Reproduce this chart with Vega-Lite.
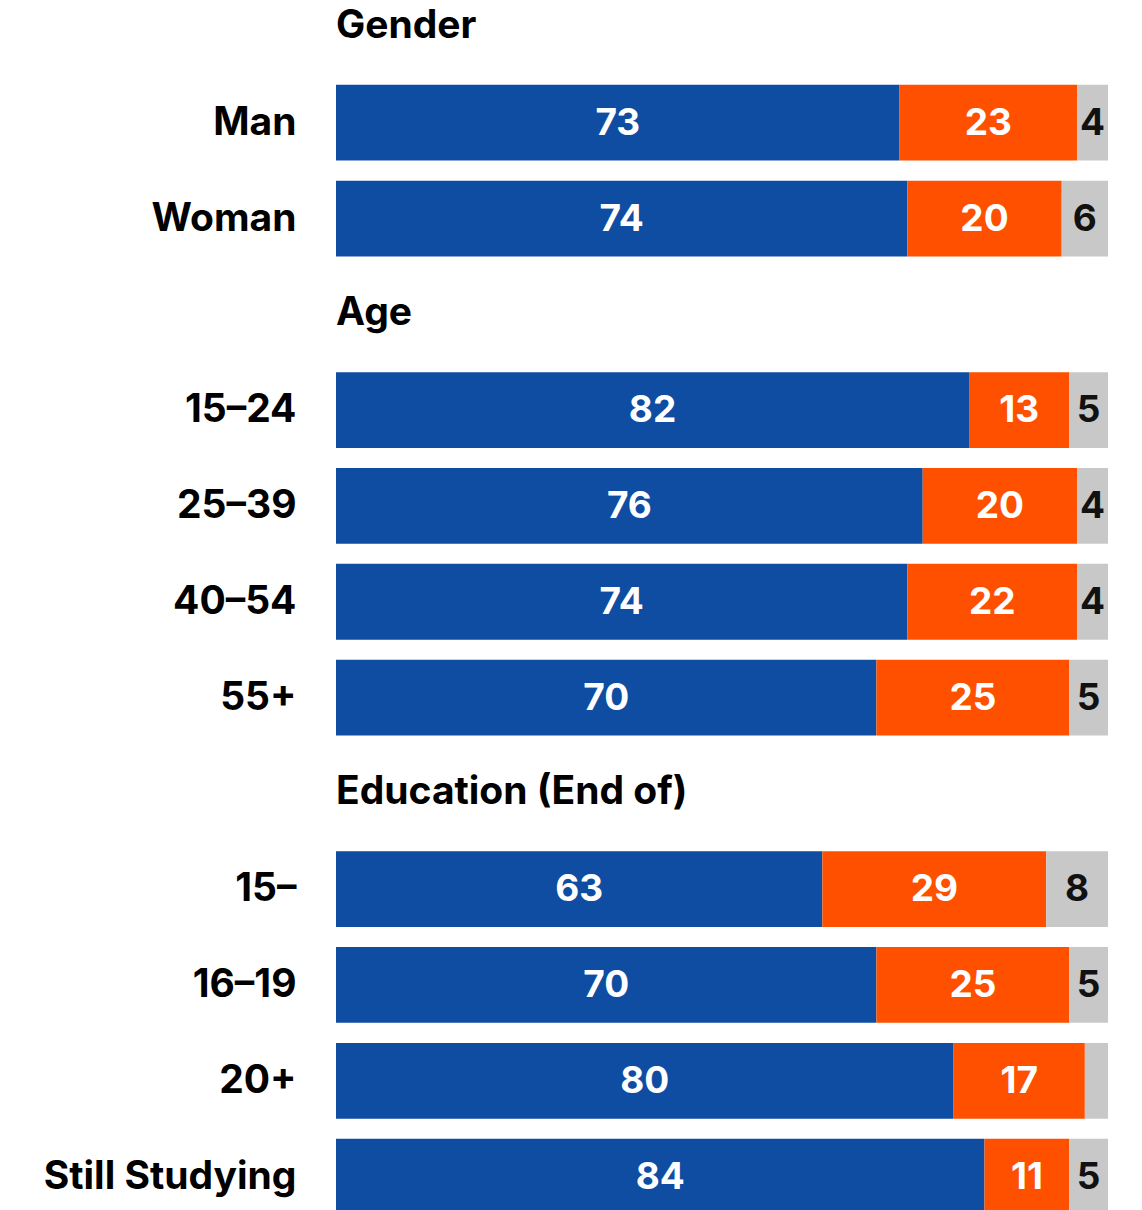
{
  "$schema": "https://vega.github.io/schema/vega-lite/v6.json",
  "width": 772,
  "height": 1210,
  "autosize": {"type": "none"},
  "padding": {"left": 336, "top": 0, "right": 34, "bottom": 0},
  "background": "white",
  "config": {"view": {"stroke": null}, "font": "Inter"},
  "datasets": {
    "bars": [
      {"row": "Man", "answer": "Agree", "value": 73},
      {"row": "Man", "answer": "Disagree", "value": 23},
      {"row": "Man", "answer": "Don't know", "value": 4},
      {"row": "Woman", "answer": "Agree", "value": 74},
      {"row": "Woman", "answer": "Disagree", "value": 20},
      {"row": "Woman", "answer": "Don't know", "value": 6},
      {"row": "15–24", "answer": "Agree", "value": 82},
      {"row": "15–24", "answer": "Disagree", "value": 13},
      {"row": "15–24", "answer": "Don't know", "value": 5},
      {"row": "25–39", "answer": "Agree", "value": 76},
      {"row": "25–39", "answer": "Disagree", "value": 20},
      {"row": "25–39", "answer": "Don't know", "value": 4},
      {"row": "40–54", "answer": "Agree", "value": 74},
      {"row": "40–54", "answer": "Disagree", "value": 22},
      {"row": "40–54", "answer": "Don't know", "value": 4},
      {"row": "55+", "answer": "Agree", "value": 70},
      {"row": "55+", "answer": "Disagree", "value": 25},
      {"row": "55+", "answer": "Don't know", "value": 5},
      {"row": "15–", "answer": "Agree", "value": 63},
      {"row": "15–", "answer": "Disagree", "value": 29},
      {"row": "15–", "answer": "Don't know", "value": 8},
      {"row": "16–19", "answer": "Agree", "value": 70},
      {"row": "16–19", "answer": "Disagree", "value": 25},
      {"row": "16–19", "answer": "Don't know", "value": 5},
      {"row": "20+", "answer": "Agree", "value": 80},
      {"row": "20+", "answer": "Disagree", "value": 17},
      {"row": "20+", "answer": "Don't know", "value": 3},
      {"row": "Still Studying", "answer": "Agree", "value": 84},
      {"row": "Still Studying", "answer": "Disagree", "value": 11},
      {"row": "Still Studying", "answer": "Don't know", "value": 5}
    ],
    "headers": [
      {"row": "Gender"},
      {"row": "Age"},
      {"row": "Education (End of)"}
    ]
  },
  "encoding": {
    "y": {
      "field": "row",
      "type": "nominal",
      "scale": {
        "domain": ["Gender", "Man", "Woman", "Age", "15–24", "25–39", "40–54", "55+", "Education (End of)", "15–", "16–19", "20+", "Still Studying"],
        "range": [-21, 1224.5],
        "paddingInner": 0.209,
        "paddingOuter": 0.1045
      },
      "axis": {
        "title": null,
        "ticks": false,
        "domain": false,
        "labelFontSize": 39,
        "labelFontWeight": "bold",
        "labelColor": "#000000",
        "labelPadding": 40,
        "labelLimit": 400,
        "labelExpr": "(datum.value == 'Gender' || datum.value == 'Age' || datum.value == 'Education (End of)') ? '' : datum.value"
      }
    }
  },
  "layer": [
    {
      "data": {"name": "bars"},
      "mark": {"type": "bar"},
      "encoding": {
        "x": {"field": "value", "type": "quantitative", "stack": "zero", "scale": {"domain": [0, 100], "nice": false}, "axis": null},
        "color": {
          "field": "answer",
          "type": "nominal",
          "scale": {"domain": ["Agree", "Disagree", "Don't know"], "range": ["#0E4DA2", "#FF5000", "#C8C8C8"]},
          "legend": null
        },
        "order": {"field": "answer"}
      }
    },
    {
      "data": {"name": "bars"},
      "mark": {"type": "text", "fontSize": 37, "fontWeight": "bold", "baseline": "middle", "align": "center", "dy": 1},
      "encoding": {
        "x": {"field": "value", "type": "quantitative", "stack": "zero", "bandPosition": 0.5},
        "detail": {"field": "answer"},
        "order": {"field": "answer"},
        "text": {"condition": {"test": "datum.value < 4", "value": ""}, "field": "value"},
        "color": {"condition": {"test": "datum.answer === \"Don't know\"", "value": "#111111"}, "value": "#ffffff"}
      }
    },
    {
      "data": {"name": "headers"},
      "mark": {"type": "text", "fontSize": 39, "fontWeight": "bold", "align": "left", "baseline": "middle", "color": "#000000", "dx": 0, "dy": -1},
      "encoding": {
        "x": {"datum": 0, "type": "quantitative"},
        "text": {"field": "row"}
      }
    }
  ]
}
